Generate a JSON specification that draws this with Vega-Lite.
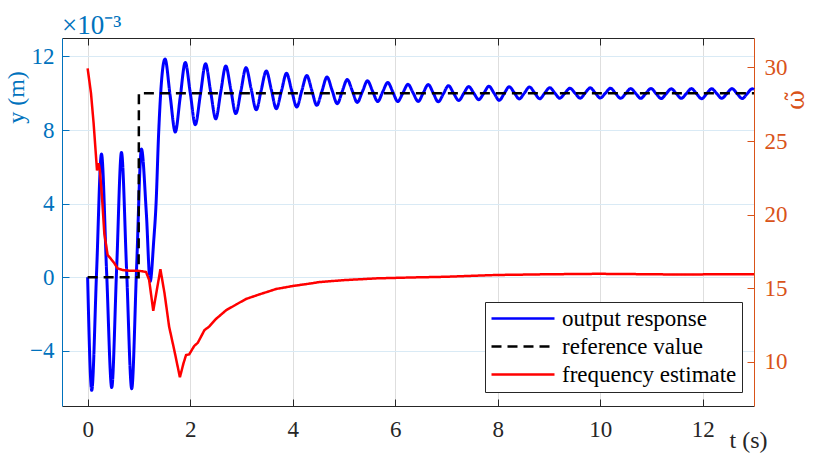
{
  "$schema": "https://vega.github.io/schema/vega-lite/v6.json",
  "width": 692,
  "height": 368,
  "autosize": {"type": "none"},
  "padding": {"left": 62, "top": 38, "right": 60, "bottom": 51},
  "background": "white",
  "title": {"text": "×10⁻³", "anchor": "start", "frame": "group", "orient": "top", "offset": -23, "baseline": "alphabetic", "font": "Liberation Serif", "fontSize": 27, "fontWeight": "normal", "color": "#0072BD"},
  "config": {
    "view": {"stroke": null},
    "axis": {"labelFont": "Liberation Serif", "titleFont": "Liberation Serif", "labelFontSize": 23, "titleFontSize": 24, "titleFontWeight": "normal", "tickSize": -7, "tickWidth": 1, "domainWidth": 1, "gridWidth": 1}
  },
  "datasets": {
    "output": [
      {"t": 0, "v": 0}, {"t": 0.08, "v": -6.15}, {"t": 0.175, "v": 0.3}, {"t": 0.27, "v": 6.7}, {"t": 0.37, "v": 0.3}, {"t": 0.47, "v": -6.0}, {"t": 0.565, "v": 0.4}, {"t": 0.66, "v": 6.78}, {"t": 0.76, "v": 0.4}, {"t": 0.86, "v": -6.06}, {"t": 0.955, "v": 0.5}, {"t": 1.05, "v": 6.97}, {"t": 1.145, "v": 3.5}, {"t": 1.22, "v": -0.23}, {"t": 1.29, "v": 2.0}, {"t": 1.335, "v": 4.0}, {"t": 1.385, "v": 7.8}, {"t": 1.44, "v": 10.6}, {"t": 1.51, "v": 11.86},
      {"t": 1.609, "v": 9.88}, {"t": 1.71, "v": 7.89}, {"t": 1.806, "v": 9.78}, {"t": 1.905, "v": 11.67}, {"t": 2.004, "v": 9.98}, {"t": 2.1, "v": 8.29}, {"t": 2.201, "v": 9.95}, {"t": 2.3, "v": 11.6}, {"t": 2.399, "v": 10.1}, {"t": 2.5, "v": 8.61}, {"t": 2.596, "v": 10.05}, {"t": 2.695, "v": 11.48}, {"t": 2.794, "v": 10.19}, {"t": 2.89, "v": 8.89}, {"t": 2.991, "v": 10.14}, {"t": 3.09, "v": 11.39}, {"t": 3.189, "v": 10.25}, {"t": 3.29, "v": 9.1}, {"t": 3.386, "v": 10.16}, {"t": 3.485, "v": 11.21}, {"t": 3.584, "v": 10.19}, {"t": 3.68, "v": 9.16}, {"t": 3.781, "v": 10.12}, {"t": 3.88, "v": 11.08}, {"t": 3.979, "v": 10.17}, {"t": 4.08, "v": 9.25}, {"t": 4.176, "v": 10.11}, {"t": 4.275, "v": 10.96}, {"t": 4.374, "v": 10.15}, {"t": 4.47, "v": 9.34}, {"t": 4.571, "v": 10.11}, {"t": 4.67, "v": 10.88}, {"t": 4.769, "v": 10.16}, {"t": 4.87, "v": 9.43}, {"t": 4.966, "v": 10.09}, {"t": 5.065, "v": 10.74}, {"t": 5.164, "v": 10.12}, {"t": 5.26, "v": 9.5}, {"t": 5.361, "v": 10.09}, {"t": 5.46, "v": 10.67}, {"t": 5.559, "v": 10.11}, {"t": 5.66, "v": 9.55}, {"t": 5.756, "v": 10.07}, {"t": 5.855, "v": 10.58}, {"t": 5.954, "v": 10.07}, {"t": 6.05, "v": 9.55}, {"t": 6.151, "v": 10.02}, {"t": 6.25, "v": 10.48}, {"t": 6.349, "v": 10.02}, {"t": 6.45, "v": 9.55}, {"t": 6.546, "v": 10.01}, {"t": 6.645, "v": 10.47}, {"t": 6.744, "v": 10.0}, {"t": 6.84, "v": 9.53}, {"t": 6.941, "v": 9.97}, {"t": 7.04, "v": 10.41}, {"t": 7.139, "v": 10.0}, {"t": 7.24, "v": 9.6}, {"t": 7.336, "v": 9.98}, {"t": 7.435, "v": 10.36}, {"t": 7.534, "v": 10.0}, {"t": 7.63, "v": 9.65}, {"t": 7.731, "v": 10.01}, {"t": 7.83, "v": 10.38}, {"t": 7.929, "v": 10.0}, {"t": 8.03, "v": 9.61}, {"t": 8.126, "v": 9.98}, {"t": 8.225, "v": 10.35}, {"t": 8.324, "v": 10.02}, {"t": 8.42, "v": 9.69}, {"t": 8.521, "v": 10.01}, {"t": 8.62, "v": 10.34}, {"t": 8.719, "v": 10.02}, {"t": 8.82, "v": 9.7}, {"t": 8.916, "v": 10.0}, {"t": 9.015, "v": 10.3}, {"t": 9.114, "v": 10.01}, {"t": 9.21, "v": 9.73}, {"t": 9.311, "v": 10.0}, {"t": 9.41, "v": 10.27}, {"t": 9.509, "v": 10.0}, {"t": 9.61, "v": 9.73}, {"t": 9.706, "v": 10.01}, {"t": 9.805, "v": 10.29}, {"t": 9.904, "v": 10.01}, {"t": 10.0, "v": 9.74}, {"t": 10.101, "v": 10.0}, {"t": 10.2, "v": 10.27}, {"t": 10.299, "v": 9.99}, {"t": 10.4, "v": 9.72}, {"t": 10.496, "v": 9.98}, {"t": 10.595, "v": 10.25}, {"t": 10.694, "v": 9.98}, {"t": 10.79, "v": 9.72}, {"t": 10.891, "v": 9.99}, {"t": 10.99, "v": 10.26}, {"t": 11.089, "v": 9.98}, {"t": 11.19, "v": 9.71}, {"t": 11.286, "v": 9.97}, {"t": 11.385, "v": 10.24}, {"t": 11.484, "v": 9.98}, {"t": 11.58, "v": 9.72}, {"t": 11.681, "v": 9.98}, {"t": 11.78, "v": 10.25}, {"t": 11.879, "v": 9.97}, {"t": 11.98, "v": 9.7}, {"t": 12.076, "v": 9.97}, {"t": 12.175, "v": 10.24}, {"t": 12.274, "v": 9.98}, {"t": 12.37, "v": 9.72}, {"t": 12.471, "v": 9.98}, {"t": 12.57, "v": 10.25}, {"t": 12.669, "v": 9.98}, {"t": 12.77, "v": 9.71}, {"t": 12.866, "v": 9.97}, {"t": 12.965, "v": 10.24}, {"t": 13.0, "v": 10.2}
    ],
    "reference": [
      {"t": 0, "v": 0}, {"t": 0.995, "v": 0}, {"t": 1.0, "v": 10}, {"t": 13, "v": 10}
    ],
    "frequency": [
      {"t": 0, "v": 29.94}, {"t": 0.066, "v": 28.24}, {"t": 0.117, "v": 26.2}, {"t": 0.15, "v": 24.6}, {"t": 0.183, "v": 23.0}, {"t": 0.215, "v": 23.5}, {"t": 0.24, "v": 23.0}, {"t": 0.28, "v": 21.2}, {"t": 0.326, "v": 18.7}, {"t": 0.39, "v": 17.26}, {"t": 0.456, "v": 16.99}, {"t": 0.52, "v": 16.7}, {"t": 0.585, "v": 16.35}, {"t": 0.68, "v": 16.24}, {"t": 0.81, "v": 16.19}, {"t": 0.98, "v": 16.19}, {"t": 1.07, "v": 16.15}, {"t": 1.14, "v": 16.1}, {"t": 1.2, "v": 15.56}, {"t": 1.28, "v": 13.47}, {"t": 1.42, "v": 16.29}, {"t": 1.5, "v": 14.66}, {"t": 1.59, "v": 12.39}, {"t": 1.69, "v": 10.8}, {"t": 1.8, "v": 8.95}, {"t": 1.87, "v": 9.9}, {"t": 1.92, "v": 10.46}, {"t": 1.98, "v": 10.5}, {"t": 2.08, "v": 11.08}, {"t": 2.15, "v": 11.3}, {"t": 2.28, "v": 12.16}, {"t": 2.37, "v": 12.39}, {"t": 2.5, "v": 12.9}, {"t": 2.7, "v": 13.5}, {"t": 2.9, "v": 13.9}, {"t": 3.09, "v": 14.27}, {"t": 3.35, "v": 14.58}, {"t": 3.68, "v": 14.95}, {"t": 4.0, "v": 15.15}, {"t": 4.4, "v": 15.35}, {"t": 4.52, "v": 15.42}, {"t": 5.0, "v": 15.55}, {"t": 5.63, "v": 15.67}, {"t": 6.3, "v": 15.73}, {"t": 7.0, "v": 15.78}, {"t": 7.97, "v": 15.9}, {"t": 9.0, "v": 15.95}, {"t": 9.98, "v": 15.98}, {"t": 11.0, "v": 15.95}, {"t": 11.55, "v": 15.93}, {"t": 12.3, "v": 15.95}, {"t": 13.0, "v": 15.95}
    ]
  },
  "layer": [
    {
      "data": {"name": "output"},
      "mark": {"type": "line", "strokeWidth": 3, "interpolate": "monotone"},
      "encoding": {
        "x": {"field": "t", "type": "quantitative", "scale": {"domain": [-0.5, 13], "nice": false, "zero": false},
          "axis": {"orient": "bottom", "values": [0, 2, 4, 6, 8, 10, 12], "grid": true, "gridColor": "#DEDEDE", "domainColor": "#262626", "tickColor": "#262626", "labelColor": "#262626", "labelPadding": 19, "title": "t (s)", "titleColor": "#262626", "titleX": 686, "titleY": 41, "titleAlign": "center", "titleBaseline": "alphabetic"}},
        "y": {"field": "v", "type": "quantitative", "scale": {"domain": [-7, 13], "nice": false, "zero": false},
          "axis": {"orient": "left", "values": [-4, 0, 4, 8, 12], "grid": true, "gridColor": "#D9EAF5", "domainColor": "#0072BD", "tickColor": "#0072BD", "labelColor": "#0072BD", "labelPadding": 15, "title": "y (m)", "titleColor": "#0072BD", "titleX": -46, "titleY": 59, "titleAngle": 270, "titleAlign": "center", "titleBaseline": "middle"}},
        "color": {"datum": "output response", "type": "nominal",
          "scale": {"domain": ["output response", "reference value", "frequency estimate"], "range": ["#0000FF", "#000000", "#FF0000"]},
          "legend": {"title": null, "orient": "none", "legendX": 423, "legendY": 264, "fillColor": "white", "strokeColor": "#262626", "padding": 5, "symbolType": "stroke", "symbolSize": 3969, "symbolStrokeWidth": 2.5, "labelFont": "Liberation Serif", "labelFontSize": 23, "labelColor": "#000000", "labelLimit": 400, "clipHeight": 23, "rowPadding": 4, "labelOffset": 6}},
        "strokeDash": {"datum": "output response", "type": "nominal",
          "scale": {"domain": ["output response", "reference value", "frequency estimate"], "range": [[1, 0], [10, 6], [1, 0]]},
          "legend": {"title": null, "orient": "none", "legendX": 423, "legendY": 264, "fillColor": "white", "strokeColor": "#262626", "padding": 5, "symbolType": "stroke", "symbolSize": 3969, "symbolStrokeWidth": 2.5, "labelFont": "Liberation Serif", "labelFontSize": 23, "labelColor": "#000000", "labelLimit": 400, "clipHeight": 23, "rowPadding": 4, "labelOffset": 6}}
      }
    },
    {
      "data": {"name": "reference"},
      "mark": {"type": "line", "strokeWidth": 2.5},
      "encoding": {
        "x": {"field": "t", "type": "quantitative", "scale": {"domain": [-0.5, 13], "nice": false, "zero": false},
          "axis": {"orient": "top", "values": [0, 2, 4, 6, 8, 10, 12], "grid": false, "labels": false, "title": null, "domainColor": "#262626", "tickColor": "#262626"}},
        "y": {"field": "v", "type": "quantitative", "scale": {"domain": [-7, 13], "nice": false, "zero": false}, "axis": null},
        "color": {"datum": "reference value", "type": "nominal"},
        "strokeDash": {"datum": "reference value", "type": "nominal"}
      }
    },
    {
      "data": {"name": "frequency"},
      "mark": {"type": "line", "strokeWidth": 2.5},
      "encoding": {
        "x": {"field": "t", "type": "quantitative", "scale": {"domain": [-0.5, 13], "nice": false, "zero": false}, "axis": null},
        "y": {"field": "v", "type": "quantitative", "scale": {"domain": [7, 32], "nice": false, "zero": false},
          "axis": {"orient": "right", "values": [10, 15, 20, 25, 30], "grid": false, "domainColor": "#D95319", "tickColor": "#D95319", "labelColor": "#D95319", "labelPadding": 17, "title": "ω̃", "titleFont": "DejaVu Serif", "titleColor": "#D95319", "titleX": 42, "titleY": 61.5, "titleAngle": 270, "titleAlign": "center", "titleBaseline": "middle"}},
        "color": {"datum": "frequency estimate", "type": "nominal"},
        "strokeDash": {"datum": "frequency estimate", "type": "nominal"}
      }
    }
  ],
  "resolve": {"scale": {"y": "independent"}, "axis": {"x": "independent", "y": "independent"}}
}
